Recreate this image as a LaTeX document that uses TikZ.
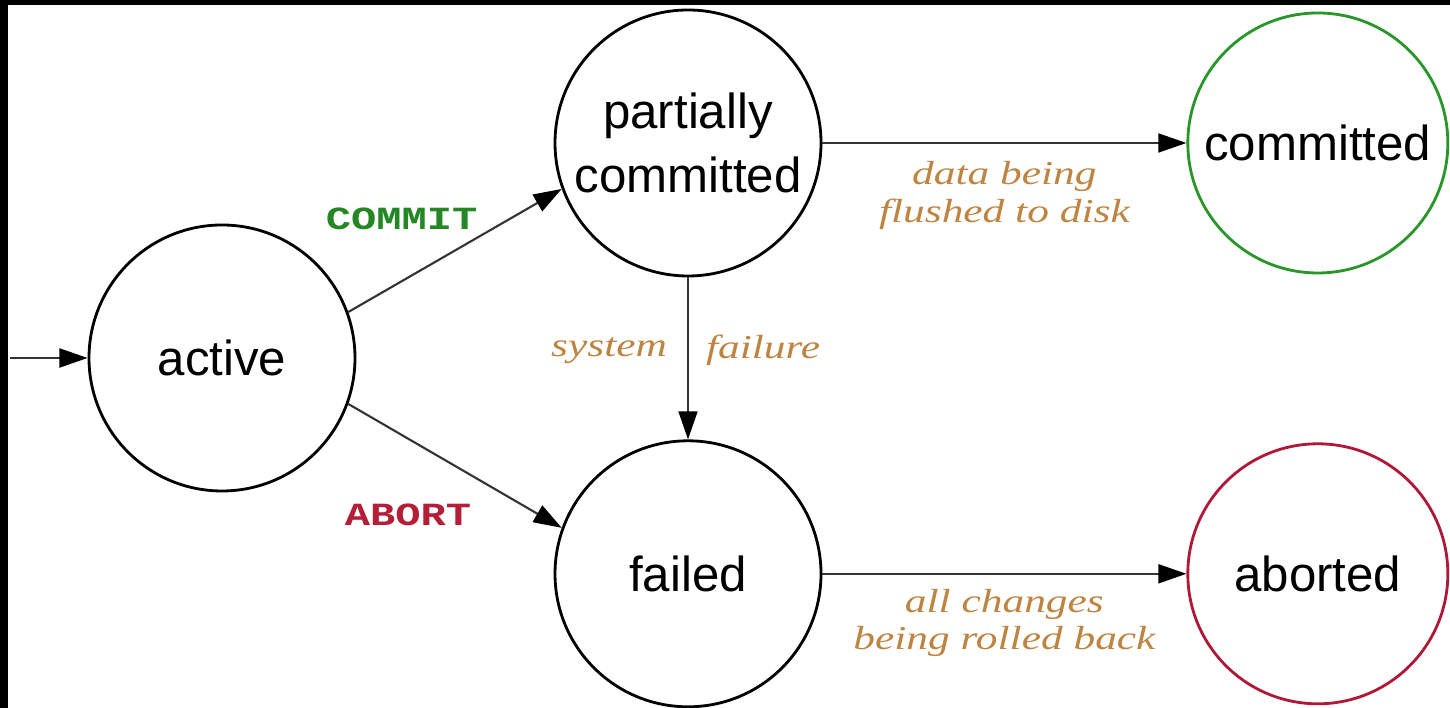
\documentclass[tikz,border=0pt]{standalone}
\usepackage{fontspec}
\setmainfont{Liberation Sans}
\newfontfamily\notefont[FakeStretch=1.3]{Liberation Serif}
\newfontfamily\cmdfont[FakeStretch=1.3]{Liberation Mono}
\usepackage{xcolor}
\usetikzlibrary{positioning, arrows.meta}
\definecolor{okgreen}{RGB}{40,150,40}
\definecolor{badred}{RGB}{175,25,55}
\definecolor{cmdgreen}{RGB}{35,135,35}
\definecolor{cmdred}{RGB}{180,30,55}
\definecolor{notebrown}{RGB}{190,132,66}
\tikzset{
  stnode/.style={draw, circle, line width=0.8pt, minimum size=2.66cm, inner sep=0pt, align=center, font=\fontsize{14}{18}\selectfont},
  okstate/.style={draw=okgreen, minimum size=2.6cm},
  badstate/.style={draw=badred, minimum size=2.6cm},
  cmd/.style={inner sep=0pt, font=\fontsize{9.2}{11}\cmdfont\bfseries},
  note/.style={inner sep=0pt, align=center, text=notebrown, font=\fontsize{9.5}{10.8}\notefont\itshape},
  arr/.style={-{Triangle[length=8pt, width=5.4pt, color=black]}, line width=0.6pt, draw=black!80},
}
\begin{document}
\begin{tikzpicture}[node distance=3.64cm]
\useasboundingbox (0,0) rectangle (14.5,7.08);
\fill[black] (0,0) rectangle (0.08,7.08);
\fill[black] (0,7.03) rectangle (14.5,7.08);
\node[stnode] (active) at (2.22,3.50) {active};
\node[stnode] (pcommit) at (6.88,5.65) {partially\\committed};
\node[stnode, below=1.62cm of pcommit] (failed) {failed};
\node[stnode, okstate, right=of pcommit] (committed) {committed};
\node[stnode, badstate, right=of failed] (aborted) {aborted};
\coordinate[left=0.78cm of active] (start);
\draw[arr] (start) -- (active);
\draw[arr] (active.20) -- node[cmd, text=cmdgreen, pos=0.25, above=0.5cm] (commitlbl) {COMMIT} (pcommit.200);
\draw[arr] (active.-20) -- node[cmd, text=cmdred, pos=0.28, below=0.64cm] (abortlbl) {ABORT} (failed.160);
\draw[arr] (pcommit) -- node[note, pos=0.45, left=0.2cm] (syslbl) {system} node[note, pos=0.45, right=0.17cm] (faillbl) {failure} (failed);
\draw[arr] (pcommit) -- node[note, midway, below=0.17cm] (flushlbl) {data being\\flushed to disk} (committed);
\draw[arr] (failed) -- node[note, midway, below=0.14cm] (rolllbl) {all changes\\being rolled back} (aborted);
\end{tikzpicture}
\end{document}
